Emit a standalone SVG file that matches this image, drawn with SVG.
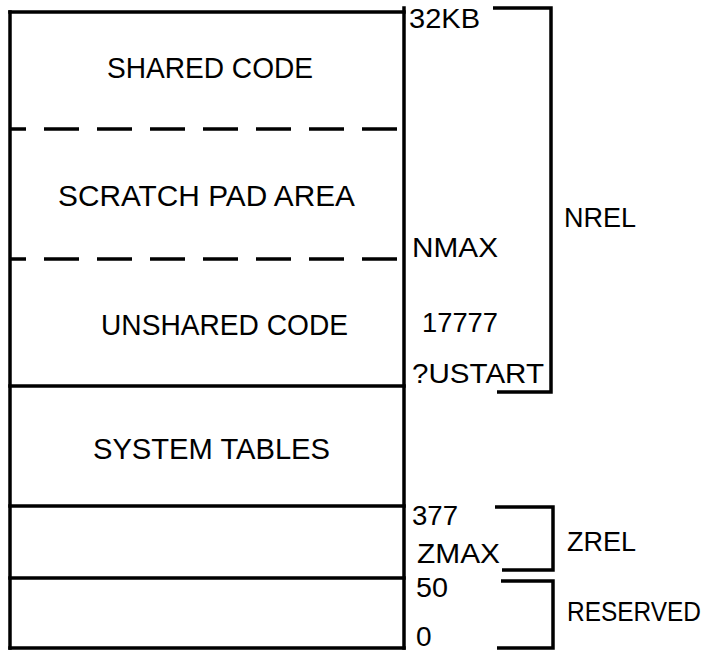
<svg xmlns="http://www.w3.org/2000/svg" width="728" height="652" viewBox="0 0 728 652">
<style>
.ln{stroke:#000;stroke-width:3.5;fill:none;stroke-linecap:square}
.dash{stroke:#000;stroke-width:3.5;fill:none;stroke-dasharray:35 18;stroke-dashoffset:19}
.br{stroke:#000;stroke-width:3.5;fill:none;stroke-linejoin:miter}
.t{font-family:"Liberation Sans",Arial,sans-serif;font-size:30px;fill:#000}
.s{font-family:"Liberation Sans",Arial,sans-serif;font-size:28px;fill:#000}
.b{font-family:"Liberation Sans",Arial,sans-serif;font-size:27px;fill:#000}
</style>
<rect width="728" height="652" fill="#fff"/>
<g id="memory-box">
<line class="ln" x1="10" y1="12" x2="10" y2="648"/>
<line class="ln" x1="404" y1="8" x2="404" y2="648"/>
<line class="ln" x1="10" y1="12" x2="404" y2="12"/>
<line class="ln" x1="10" y1="648" x2="404" y2="648"/>
</g>
<g id="shared-code">
<text class="t" x="107" y="78" textLength="206" lengthAdjust="spacingAndGlyphs">SHARED CODE</text>
<line class="dash" x1="10" y1="129" x2="404" y2="129"/>
</g>
<g id="scratch-pad">
<text class="t" x="58" y="206" textLength="297" lengthAdjust="spacingAndGlyphs">SCRATCH PAD AREA</text>
<line class="dash" x1="10" y1="259" x2="404" y2="259"/>
</g>
<g id="unshared-code">
<text class="t" x="101" y="335" textLength="247" lengthAdjust="spacingAndGlyphs">UNSHARED CODE</text>
<line class="ln" x1="10" y1="386" x2="404" y2="386"/>
</g>
<g id="system-tables">
<text class="t" x="93" y="459" textLength="237" lengthAdjust="spacingAndGlyphs">SYSTEM TABLES</text>
<line class="ln" x1="10" y1="506" x2="404" y2="506"/>
</g>
<g id="zrel-area">
<line class="ln" x1="10" y1="578" x2="404" y2="578"/>
</g>
<g id="reserved-area"></g>
<g id="addresses">
<text class="s" x="409" y="28" textLength="71" lengthAdjust="spacingAndGlyphs">32KB</text>
<text class="s" x="412" y="257" textLength="86" lengthAdjust="spacingAndGlyphs">NMAX</text>
<text class="s" x="422" y="332" textLength="76" lengthAdjust="spacingAndGlyphs">17777</text>
<text class="s" x="412" y="383" textLength="132" lengthAdjust="spacingAndGlyphs">?USTART</text>
<text class="s" x="412" y="525" textLength="46" lengthAdjust="spacingAndGlyphs">377</text>
<text class="s" x="417" y="563" textLength="83" lengthAdjust="spacingAndGlyphs">ZMAX</text>
<text class="s" x="416" y="597" textLength="32" lengthAdjust="spacingAndGlyphs">50</text>
<text class="s" x="416" y="646">0</text>
</g>
<g id="connectors">
<polyline class="br" points="493,8 551,8 551,392 497,392"/>
<polyline class="br" points="495,507 553,507 553,570 502,570"/>
<polyline class="br" points="501,581 553,581 553,648 497,648"/>
</g>
<g id="bracket-labels">
<text class="b" x="564" y="227">NREL</text>
<text class="b" x="567" y="551">ZREL</text>
<text class="b" x="567" y="621" textLength="134" lengthAdjust="spacingAndGlyphs">RESERVED</text>
</g>
</svg>
